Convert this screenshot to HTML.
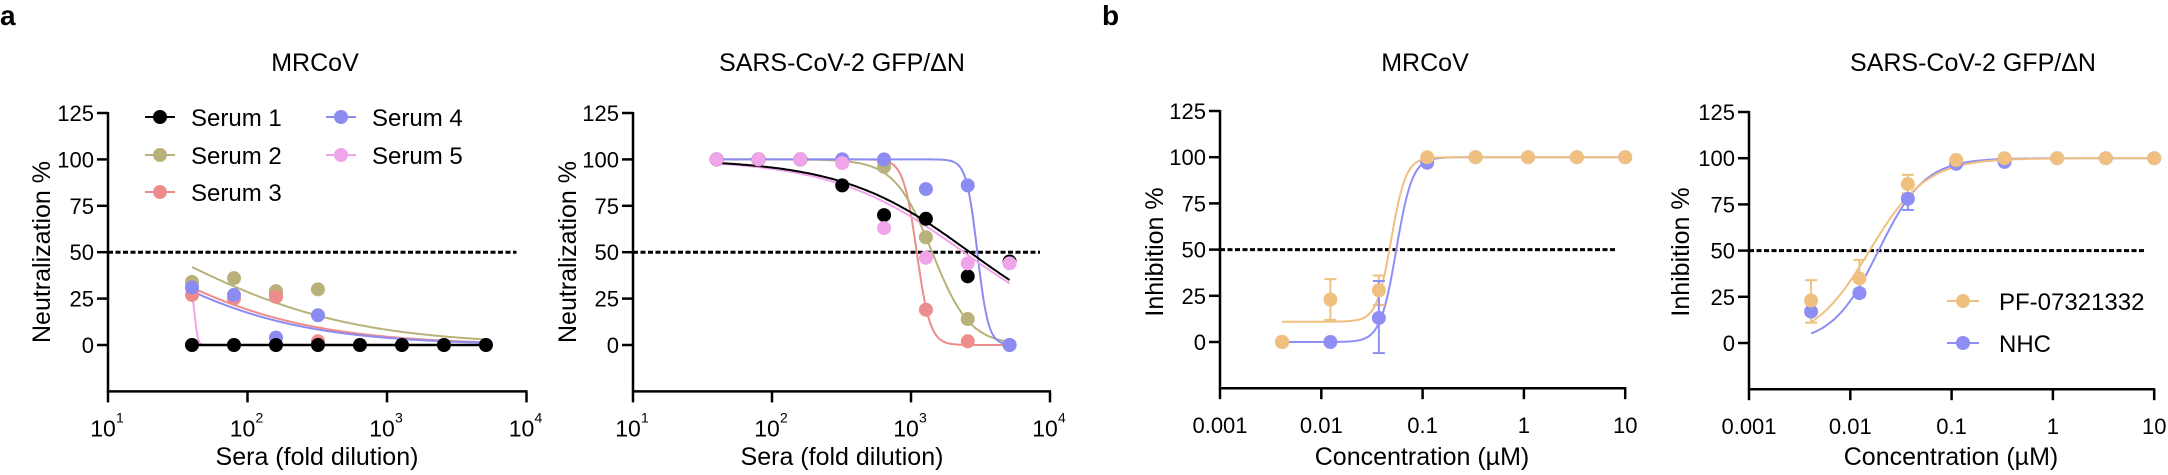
<!DOCTYPE html>
<html><head><meta charset="utf-8"><style>
html,body{margin:0;padding:0;background:#fff;}
svg{display:block;font-family:"Liberation Sans",Arial,sans-serif;}
</style></head><body>
<svg id="s" width="2168" height="475" xmlns="http://www.w3.org/2000/svg">
<text x="0" y="25" font-size="28" font-weight="bold">a</text>
<text x="1102" y="25" font-size="28" font-weight="bold">b</text>
<text x="315" y="71" font-size="25" text-anchor="middle">MRCoV</text>
<text x="842" y="71" font-size="25" text-anchor="middle">SARS-CoV-2 GFP/ΔN</text>
<text x="1425" y="71" font-size="25" text-anchor="middle">MRCoV</text>
<text x="1973" y="71" font-size="25" text-anchor="middle">SARS-CoV-2 GFP/ΔN</text>
<text x="317" y="465" font-size="25" text-anchor="middle">Sera (fold dilution)</text>
<text x="842" y="465" font-size="25" text-anchor="middle">Sera (fold dilution)</text>
<text x="1422" y="465" font-size="25" text-anchor="middle">Concentration (µM)</text>
<text x="1951" y="465" font-size="25" text-anchor="middle">Concentration (µM)</text>
<text transform="translate(50,252) rotate(-90)" font-size="25" text-anchor="middle">Neutralization %</text>
<text transform="translate(576,252) rotate(-90)" font-size="25" text-anchor="middle">Neutralization %</text>
<text transform="translate(1163,252) rotate(-90)" font-size="25" text-anchor="middle">Inhibition %</text>
<text transform="translate(1689,252) rotate(-90)" font-size="25" text-anchor="middle">Inhibition %</text>
<g id="g"></g>
</svg>
<script>
var NS="http://www.w3.org/2000/svg",G=document.getElementById('g');
function el(t,a,txt){var e=document.createElementNS(NS,t);for(var k in a)e.setAttribute(k,a[k]);if(txt!==undefined)e.textContent=txt;G.appendChild(e);return e;}
var C={k:'#000',o:'#b8b27a',r:'#ec8c8c',b:'#8b8bf2',p:'#f0a4ea',pf:'#f0c080',nhc:'#8e8ef4'};
function panel(P){
 var X=function(v){return P.x0+(Math.log10(v)-P.l0)*P.dec;},Y=function(v){return P.y0-v*P.u;};
 P.X=X;P.Y=Y;
 var yb=Y(-25),xe=P.x0+P.n*P.dec;
 el('line',{x1:P.x0,y1:Y(125)-1,x2:P.x0,y2:yb+1.5,stroke:'#000','stroke-width':2.5});
 el('line',{x1:P.x0-1,y1:yb,x2:xe+1,y2:yb,stroke:'#000','stroke-width':2.5});
 [0,25,50,75,100,125].forEach(function(t){var y=Y(t);el('line',{x1:P.x0-11,y1:y,x2:P.x0,y2:y,stroke:'#000','stroke-width':2.5});
  el('text',{x:P.x0-14,y:y+8,'font-size':22,'text-anchor':'end'},String(t));});
 for(var i=0;i<=P.n;i++){var x=P.x0+i*P.dec;el('line',{x1:x,y1:yb,x2:x,y2:yb+11,stroke:'#000','stroke-width':2.5});
  if(P.log){el('text',{x:x-5,y:yb+45,'font-size':23,'text-anchor':'middle'},'10');
   el('text',{x:x+8,y:yb+31,'font-size':14,'text-anchor':'start'},String(P.l0+i));}
  else el('text',{x:x,y:yb+45,'font-size':22,'text-anchor':'middle'},P.lab[i]);}
 el('line',{x1:P.x0,y1:Y(50),x2:xe-10,y2:Y(50),stroke:'#000','stroke-width':3,'stroke-dasharray':'5,2.5'});
 return P;}
function curve(P,f,a,b,col,w){var d='';for(var i=0;i<=200;i++){var lv=Math.log10(a)+(Math.log10(b)-Math.log10(a))*i/200,v=Math.pow(10,lv);d+=(i?'L':'M')+P.X(v).toFixed(1)+','+P.Y(f(v)).toFixed(1);}
 el('path',{d:d,fill:'none',stroke:col,'stroke-width':w||2});}
function hill(ic,h,bot,top){bot=bot||0;top=top===undefined?100:top;return function(x){return bot+(top-bot)/(1+Math.pow(x/ic,h));};}
function hillUp(ic,h,bot,top){return function(x){return bot+(top-bot)/(1+Math.pow(ic/x,h));};}
function dot(P,x,y,col,r){el('circle',{cx:P.X(x),cy:P.Y(y),r:r||7,fill:col});}
function err(P,x,y1,y2,col){var X=P.X(x);el('line',{x1:X,y1:P.Y(y1),x2:X,y2:P.Y(y2),stroke:col,'stroke-width':2});
 [y1,y2].forEach(function(y){el('line',{x1:X-6,y1:P.Y(y),x2:X+6,y2:P.Y(y),stroke:col,'stroke-width':2});});}
var D=[40,80,160,320,640,1280,2560,5120];
var p1=panel({x0:108,l0:1,dec:139.5,n:3,y0:345,u:1.856,log:true});
curve(p1,hill(24.4,0.65),40,5120,C.o);
curve(p1,hill(12.7,0.70),40,5120,C.r);
curve(p1,hill(11.5,0.72),40,5120,C.b);
curve(p1,function(x){return 30/(1+Math.pow(x/42,40));},40,5120,C.p);
el('line',{x1:p1.X(40),y1:p1.Y(0),x2:p1.X(5120),y2:p1.Y(0),stroke:'#000','stroke-width':2.5});
[[34,36,28,30],[27,25,26,2],[31,27,4,16]].forEach(function(a,j){var c=[C.o,C.r,C.b][j];a.forEach(function(v,i){dot(p1,D[i],v,c);});});
dot(p1,160,29,C.o);dot(p1,160,26,C.r);
D.forEach(function(d){dot(p1,d,0,C.p);});
D.forEach(function(d){dot(p1,d,0,'#000');});
var L=[['Serum 1',C.k,145,117],['Serum 2',C.o,145,155],['Serum 3',C.r,145,192],['Serum 4',C.b,326,117],['Serum 5',C.p,326,155]];
L.forEach(function(l){el('line',{x1:l[2],y1:l[3],x2:l[2]+30,y2:l[3],stroke:l[1],'stroke-width':2});el('circle',{cx:l[2]+15,cy:l[3],r:7,fill:l[1]});
 el('text',{x:l[2]+46,y:l[3]+9,'font-size':24},l[0]);});
var p2=panel({x0:633,l0:1,dec:139,n:3,y0:345,u:1.856,log:true});
curve(p2,hill(1100,9),40,5120,C.r);
curve(p2,hill(1420,3.2),40,5120,C.o);
curve(p2,hill(3000,11),40,5120,C.b);
curve(p2,hill(2400,0.92),40,5120,C.p);
curve(p2,hill(2650,0.94),40,5120,'#000');
[[C.r,[100,100,100,100,99,19,2,0]],[C.o,[100,100,100,100,96,58,14,0]],[C.b,[100,100,100,100,100,84,86,0]],
 [C.k,[100,100,100,86,70,68,37,45]],[C.p,[100,100,100,98,63,47,44,44]]].forEach(function(s){s[1].forEach(function(v,i){dot(p2,D[i],v,s[0]);});});
var C3=[0.0041,0.0123,0.037,0.111,0.333,1.1,3.33,10];
var p3=panel({x0:1220,l0:-3,dec:101.3,n:4,y0:342,u:1.848,log:false,lab:['0.001','0.01','0.1','1','10']});
curve(p3,hillUp(0.055,5.5,0,100),0.0041,10,C.nhc);
curve(p3,hillUp(0.049,6,11,100),0.0041,10,C.pf);
err(p3,0.0123,12,34,C.pf);err(p3,0.037,20,36,C.pf);err(p3,0.037,-6,33,C.nhc);
[0,0,13,97,100,100,100,100].forEach(function(v,i){dot(p3,C3[i],v,C.nhc);});
[0,23,28,100,100,100,100,100].forEach(function(v,i){dot(p3,C3[i],v,C.pf);});
var p4=panel({x0:1749,l0:-3,dec:101.3,n:4,y0:343,u:1.848,log:false,lab:['0.001','0.01','0.1','1','10']});
curve(p4,hillUp(0.019,1.9,0,100),0.0041,10,C.nhc);
curve(p4,hillUp(0.0155,1.55,0,100),0.0041,10,C.pf);
err(p4,0.0041,11,34,C.pf);err(p4,0.0123,26,45,C.pf);err(p4,0.037,81,91,C.pf);
err(p4,0.0123,25,29,C.nhc);err(p4,0.037,72,80,C.nhc);
[17,27,78,97,98,100,100,100].forEach(function(v,i){dot(p4,C3[i],v,C.nhc);});
[23,35,86,99,100,100,100,100].forEach(function(v,i){dot(p4,C3[i],v,C.pf);});
[['PF-07321332',C.pf,301],['NHC',C.nhc,343]].forEach(function(l){el('line',{x1:1947,y1:l[2],x2:1979,y2:l[2],stroke:l[1],'stroke-width':2});
 el('circle',{cx:1963,cy:l[2],r:7,fill:l[1]});el('text',{x:1999,y:l[2]+9,'font-size':24},l[0]);});
</script>
</body></html>
